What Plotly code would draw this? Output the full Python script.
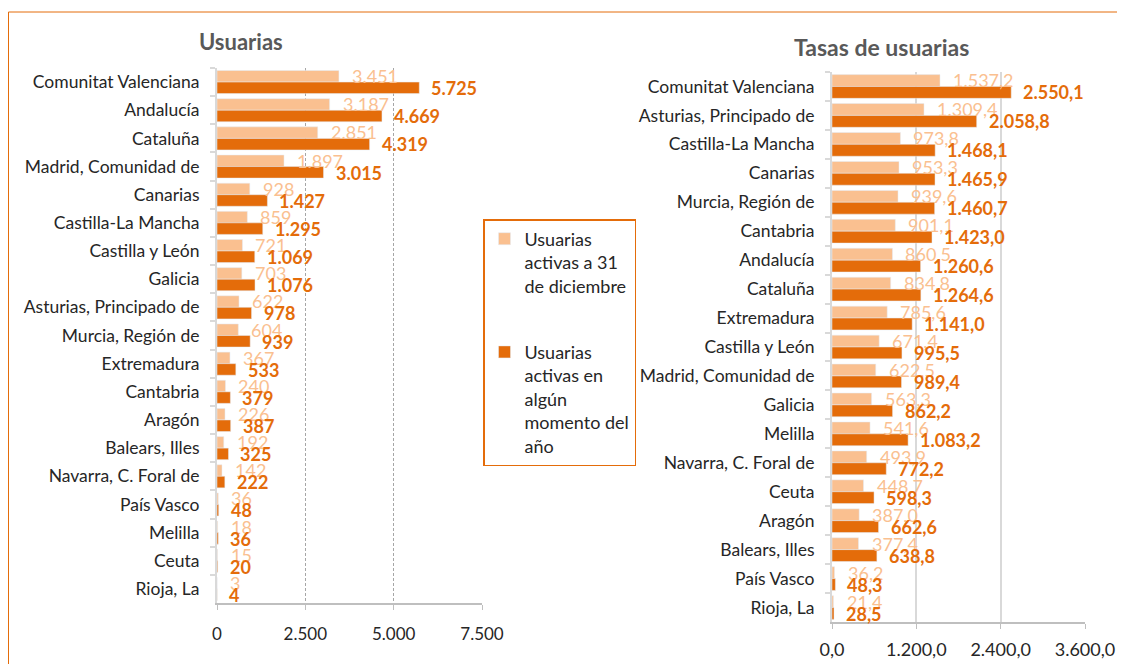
import plotly.graph_objects as go

W, H = 1125, 664
OFF = 8  # margen del body de la pagina

# Usuarias (numero)
regiones_usu = [
    "Comunitat Valenciana", "Andalucía", "Cataluña", "Madrid, Comunidad de",
    "Canarias", "Castilla-La Mancha", "Castilla y León", "Galicia",
    "Asturias, Principado de", "Murcia, Región de", "Extremadura", "Cantabria",
    "Aragón", "Balears, Illes", "Navarra, C. Foral de", "País Vasco",
    "Melilla", "Ceuta", "Rioja, La",
]
usu_dic = [3451, 3187, 2851, 1897, 928, 859, 721, 703, 622, 604, 367, 240, 226, 192, 142, 36, 18, 15, 3]
usu_anio = [5725, 4669, 4319, 3015, 1427, 1295, 1069, 1076, 978, 939, 533, 379, 387, 325, 222, 48, 36, 20, 4]

# Tasas de usuarias
regiones_tasa = [
    "Comunitat Valenciana", "Asturias, Principado de", "Castilla-La Mancha",
    "Canarias", "Murcia, Región de", "Cantabria", "Andalucía", "Cataluña",
    "Extremadura", "Castilla y León", "Madrid, Comunidad de", "Galicia",
    "Melilla", "Navarra, C. Foral de", "Ceuta", "Aragón", "Balears, Illes",
    "País Vasco", "Rioja, La",
]
tasa_dic = [1537.2, 1309.4, 973.8, 953.3, 939.6, 901.1, 860.5, 834.8, 785.6, 671.4,
            622.5, 563.3, 541.6, 493.9, 448.7, 387.0, 377.4, 36.2, 21.4]
tasa_anio = [2550.1, 2058.8, 1468.1, 1465.9, 1460.7, 1423.0, 1260.6, 1264.6, 1141.0, 995.5,
             989.4, 862.2, 1083.2, 772.2, 598.3, 662.6, 638.8, 48.3, 28.5]

nombre_dic = "Usuarias<br>activas a 31<br>de diciembre"
nombre_anio = "Usuarias<br>activas en<br>algún<br>momento del<br>año"

CLARO = "#FAC090"
OSCURO = "#E46C0A"
TEXTO = "#262626"
FUENTE = "Lato"


def es(v, dec=0):
    # formato numerico espanol: miles con punto, decimales con coma
    s = f"{v:,.{dec}f}"
    return s.replace(",", "X").replace(".", ",").replace("X", ".")


def fx(p):
    return (p - OFF) / W


def fy(p):
    return 1 - (p - OFF) / H


fig = go.Figure()

fig.add_trace(go.Bar(y=regiones_usu, x=usu_dic, orientation="h", name=nombre_dic,
                     marker_color=CLARO, xaxis="x", yaxis="y", legendgroup="a"))
fig.add_trace(go.Bar(y=regiones_usu, x=usu_anio, orientation="h", name=nombre_anio,
                     marker_color=OSCURO, xaxis="x", yaxis="y", legendgroup="b"))
fig.add_trace(go.Bar(y=regiones_tasa, x=tasa_dic, orientation="h", name=nombre_dic,
                     marker_color=CLARO, xaxis="x2", yaxis="y2", showlegend=False))
fig.add_trace(go.Bar(y=regiones_tasa, x=tasa_anio, orientation="h", name=nombre_anio,
                     marker_color=OSCURO, xaxis="x2", yaxis="y2", showlegend=False))

anotaciones = []
for reg, a, b in zip(regiones_usu, usu_dic, usu_anio):
    anotaciones.append(dict(x=a, y=reg, xref="x", yref="y", text=es(a), showarrow=False,
                            xanchor="left", xshift=11, yshift=6,
                            font=dict(color=CLARO, size=18, family=FUENTE)))
    anotaciones.append(dict(x=b, y=reg, xref="x", yref="y", text="<b>" + es(b) + "</b>",
                            showarrow=False, xanchor="left", xshift=10, yshift=-6,
                            font=dict(color=OSCURO, size=18, family=FUENTE)))
for reg, a, b in zip(regiones_tasa, tasa_dic, tasa_anio):
    anotaciones.append(dict(x=a, y=reg, xref="x2", yref="y2", text=es(a, 1), showarrow=False,
                            xanchor="left", xshift=11, yshift=6,
                            font=dict(color=CLARO, size=18, family=FUENTE)))
    anotaciones.append(dict(x=b, y=reg, xref="x2", yref="y2", text="<b>" + es(b, 1) + "</b>",
                            showarrow=False, xanchor="left", xshift=10, yshift=-6,
                            font=dict(color=OSCURO, size=18, family=FUENTE)))

anotaciones.append(dict(x=fx(241), y=fy(42), xref="paper", yref="paper", text="<b>Usuarias</b>",
                        xanchor="center", yanchor="middle", showarrow=False,
                        font=dict(size=22, color="#595959", family=FUENTE)))
anotaciones.append(dict(x=fx(881), y=fy(47), xref="paper", yref="paper",
                        text="<b>Tasas de usuarias</b>",
                        xanchor="center", yanchor="middle", showarrow=False,
                        font=dict(size=23, color="#595959", family=FUENTE)))

eje_cat = dict(type="category", showgrid=False, showline=True,
               linecolor="#D9D9D9", linewidth=2, ticks="outside", tickson="boundaries",
               ticklen=5, tickcolor="#D9D9D9", tickwidth=2, ticklabelstandoff=12,
               automargin=False,
               tickfont=dict(size=17.5, color=TEXTO, family=FUENTE))

fig.update_layout(
    width=W, height=H, autosize=False,
    margin=dict(l=0, r=0, t=0, b=0, pad=0, autoexpand=False),
    paper_bgcolor="white", plot_bgcolor="white",
    barmode="group", bargap=0.18, bargroupgap=0,
    separators=",.",
    font=dict(family=FUENTE, color=TEXTO),
    xaxis=dict(domain=[fx(217), fx(482)], anchor="y", range=[0, 7500],
               tickvals=[0, 2500, 5000, 7500], tickformat=",.0f", automargin=False,
               showgrid=True, gridcolor="#A6A6A6", griddash="3px,2px", gridwidth=1,
               showline=True, linecolor="#BFBFBF", linewidth=1.5, zeroline=False,
               ticks="outside", ticklen=5, tickcolor="#BFBFBF", ticklabelstandoff=10,
               tickfont=dict(size=17, color=TEXTO, family=FUENTE)),
    yaxis=dict(domain=[fy(603), fy(68)], anchor="x",
               range=[len(regiones_usu) - 0.5, -0.5], **eje_cat),
    xaxis2=dict(domain=[fx(832), fx(1085)], anchor="y2", range=[0, 3600],
                tickvals=[0, 1200, 2400, 3600], tickformat=",.1f", automargin=False,
                showgrid=True, gridcolor="#D9D9D9", gridwidth=1.5,
                showline=True, linecolor="#BFBFBF", linewidth=1.5, zeroline=False,
                ticks="outside", ticklen=5, tickcolor="#BFBFBF", ticklabelstandoff=6,
                tickfont=dict(size=18, color=TEXTO, family=FUENTE)),
    yaxis2=dict(domain=[fy(622), fy(72)], anchor="x2",
                range=[len(regiones_tasa) - 0.5, -0.5], **eje_cat),
    showlegend=True,
    legend=dict(x=fx(483), y=fy(219), xanchor="left", yanchor="top", valign="top",
                bgcolor="white", bordercolor=OSCURO, borderwidth=1.5,
                font=dict(size=18, color=TEXTO, family=FUENTE),
                itemwidth=30, tracegroupgap=40, traceorder="grouped"),
    annotations=anotaciones,
    shapes=[
        dict(type="line", xref="paper", yref="paper", x0=0.5 / W, x1=1.01, y0=fy(12), y1=fy(12),
             line=dict(color=OSCURO, width=1)),
        dict(type="line", xref="paper", yref="paper", x0=0.5 / W, x1=0.5 / W, y0=-0.01, y1=fy(12),
             line=dict(color=OSCURO, width=1)),
    ],
)

fig.write_html("out.html")
